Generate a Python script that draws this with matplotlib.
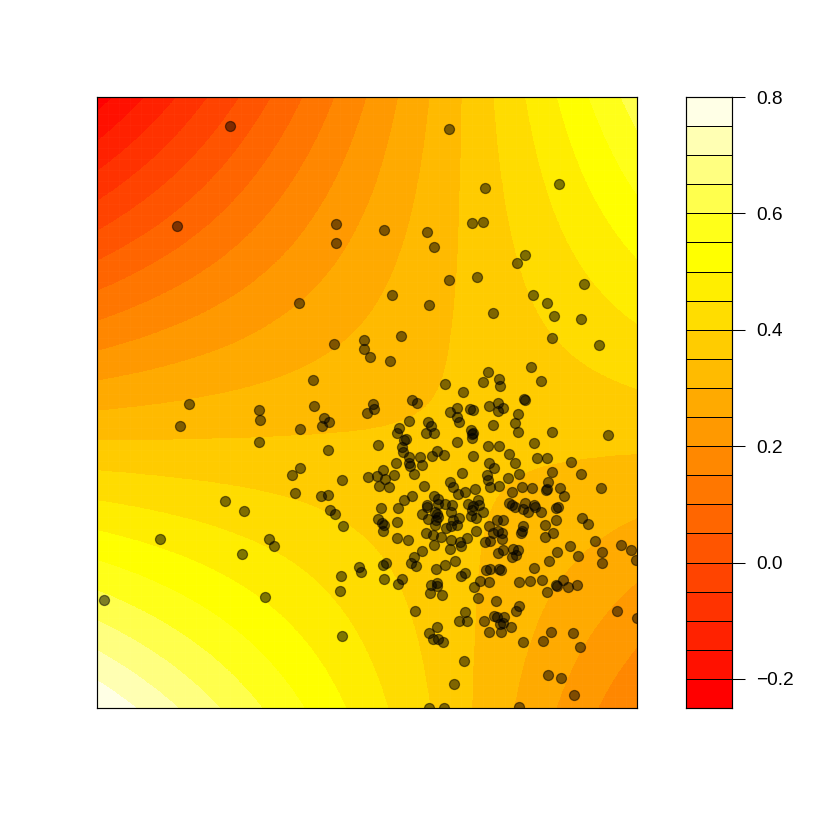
import numpy as np
import matplotlib
matplotlib.use('Agg')
import matplotlib.pyplot as plt
from matplotlib.colors import ListedColormap, BoundaryNorm, hsv_to_rgb

plt.rcParams['font.family'] = ['Liberation Sans', 'DejaVu Sans']

grid_x = [97, 164.5, 232, 299.5, 367, 434.5, 502, 569.5, 637]
grid_y = [97, 173.4, 249.8, 326.1, 402.5, 478.9, 555.3, 631.6, 708]
row_0 = [-.225, -.119, -.012, .095, .201, .308, .414, .521, .627]
row_1 = [-.097, -.015, .069, .153, .235, .319, .402, .485, .568]
row_2 = [.031, .090, .150, .210, .270, .330, .389, .449, .508]
row_3 = [.158, .195, .231, .268, .304, .341, .377, .413, .449]
row_4 = [.286, .299, .312, .325, .338, .351, .364, .377, .390]
row_5 = [.414, .403, .393, .383, .372, .362, .352, .342, .331]
row_6 = [.542, .508, .474, .441, .407, .373, .339, .306, .271]
row_7 = [.669, .612, .555, .498, .441, .384, .327, .270, .212]
row_8 = [.797, .717, .636, .556, .475, .395, .314, .234, .153]

# scatter points
point_x = [230, 177, 335.7, 336, 299, 333.7, 364.3, 364, 370, 313, 188.7, 448.7, 485, 559, 384.3, 427.3, 434, 471.7, 482.7, 524.7,
           517.3, 448.7, 476.7, 584, 391.7, 428.7, 532.7, 546.7, 553.7, 581.3, 492.7, 400.7, 552.3, 599, 390, 488, 531.3, 483, 499, 541,
           180, 258.7, 260.3, 258.7, 299.7, 314.3, 323.7, 322, 328.7, 366.5, 373, 374.3, 327.7, 300.3, 292, 342, 368.3, 295.3, 320.7, 328.3,
           330, 335, 343, 224.7, 244.3, 159.7, 269, 274.3, 241.7, 359, 361.3, 341.3, 340, 264.7, 104.3, 342,
           500, 444.7, 463, 412, 416.7, 489, 497.7, 503.3, 497.5, 457.3, 450.3, 470, 472.7, 457.3, 459, 408.7, 427.7, 431, 492.7, 399,
           396.7, 426, 434, 471, 472.3, 473, 472.3, 405.7, 404.3, 457, 378.3, 488, 499, 402, 402.7, 436.7, 432.3, 444.3, 473.3, 408.7,
           420, 396, 409.3, 409.7, 422.3, 488.7, 494, 383.3, 393.7, 377, 385, 413.7, 462.3, 487.3, 488, 450, 379.3, 389, 424, 453.3,
           490.3, 499, 474.7, 465.3, 457.7, 403.5, 412, 433.7, 437.7, 438.3, 444.5, 452.3, 467.7, 478.3, 472.7, 478.7, 426.7, 427, 380.7, 397.7,
           524, 524.5, 518.3, 515.3, 518.3, 552.3, 608.3, 534.3, 509.3, 536.7, 546.7, 515.3, 570.7, 552, 581, 518.7, 508, 548.3, 601, 522,
           531.7, 547.3, 546, 560.3, 512, 564, 509, 511.7, 515, 524.7, 534.3, 535, 523.3, 540.7, 558.3, 556,
           472.3, 482.7, 476, 470.7, 451.3, 459, 422.3, 435.3, 436.7, 437.7, 428.3, 436, 435, 377.7, 382.3, 384, 382.7, 397.3, 453, 451,
           456.7, 446.3, 476.3, 489, 497, 493, 498.3, 490.3, 485.3, 466.7, 426, 433.3, 441, 397.3, 407.7, 450.7, 459.7, 461.3, 434, 449.7,
           422.3, 498.3, 414.3, 411, 415.7, 454.7, 445, 436.3, 386, 383.3, 384, 402.3, 398.3, 465, 461.3, 486, 490.3, 498.5, 480, 489,
           474, 478.3, 495.5, 437.3, 430.7, 437.3, 430, 441.7,
           544.7, 555.7, 582.3, 588.3, 528.3, 503, 523.3, 522.3, 521.3, 501.7, 502, 545, 553.3, 594.7, 621.3, 630.7, 602, 569.7, 556.7, 577.7,
           602, 635.7, 548.7, 502.7, 513.3, 518.3, 516, 512.3, 501, 534.3, 519, 530, 542.3, 562.7, 555.7, 556.7, 568, 577, 547, 519,
           516, 616.7, 414.5, 465, 459.3, 466.7, 484, 489, 494, 497, 500, 500.5, 437, 429.3, 433.3, 438.3, 443, 464, 453.7, 428.7,
           444.3, 504.3, 502.7, 511, 523, 542.7, 551, 573, 580.3, 547.7, 560.7, 573.7, 519, 636.7]
point_y = [125.7, 226, 224, 243.3, 302.7, 344.3, 339.7, 348.7, 357.3, 380, 404, 128.7, 188.3, 184, 229.7, 232, 247, 223.3, 222.3, 255,
           262.7, 280.3, 276.7, 283.7, 295.3, 305, 295, 303.3, 315.7, 319, 313, 335.7, 338, 344.7, 361, 372, 367, 382, 379.3, 381,
           426, 409.7, 420, 441.7, 429.3, 406, 418.3, 425.7, 422, 413, 403.7, 408.7, 450, 468, 475, 479.7, 477.3, 493.3, 496, 495,
           510, 514, 526.3, 500.7, 511.3, 539, 539, 546, 554, 567, 572.3, 575.7, 591.3, 596.7, 599.7, 635.7,
           386.5, 384.3, 392.3, 399.7, 403.3, 405.7, 402.7, 407.7, 411.5, 407.7, 412, 408.7, 410, 416.7, 421.7, 420.7, 422, 426, 424.7, 428.3,
           432.7, 432.7, 433.3, 430, 434, 432.7, 438.3, 438.7, 440.3, 441.7, 444.7, 445.7, 446, 447.3, 451.7, 451, 456, 455, 456, 456.7,
           456.7, 463, 463.3, 466.3, 465, 463, 468.3, 469.7, 474.7, 475.7, 479, 474, 473, 475.3, 480, 481.7, 486, 486.7, 486, 486.7,
           487.3, 486, 489.3, 492, 494.3, 499.7, 496, 495.7, 499.3, 503.7, 504, 505, 503.7, 500.3, 506, 505.3, 505, 506.7, 508, 508.5,
           399.3, 400.3, 414.3, 423.3, 432, 432.3, 435.3, 443, 453.7, 457.7, 458.3, 463, 462.3, 472.3, 474.3, 474.3, 477.7, 481.7, 487.7, 487.3,
           488, 489.3, 490, 488, 492, 496.3, 502.7, 505, 507, 503.3, 504.7, 506.7, 509.5, 512, 507.3, 508.3,
           510, 512, 518, 515.7, 511.7, 517.7, 514, 512.3, 514, 516.7, 519, 520, 525, 519.3, 523.3, 525, 531, 522, 520, 525.7,
           525, 528, 530.7, 525.7, 520.3, 532.7, 531.5, 540.7, 542.3, 537.7, 533, 535.3, 537, 537.7, 540.3, 539.7, 542, 545.7, 545.3, 549,
           551.3, 553.5, 557.3, 563, 565.7, 560.7, 565.3, 569, 562.7, 565, 578.7, 579.3, 584.3, 572.7, 576, 569.7, 569, 569, 581.3, 581.7,
           587.3, 597.7, 600.7, 583.3, 585.3, 586, 592.7, 594.7,
           525, 520, 518.3, 524.3, 512, 520.3, 525.7, 530.7, 533.3, 533.3, 539.3, 536.7, 532.7, 540.7, 545.3, 550, 551.7, 546.3, 551.7, 556,
           563, 559.7, 561, 550, 549.3, 549.7, 555, 556.7, 570, 568.3, 581.7, 581.3, 580.3, 579.7, 585, 586, 587, 584.7, 591.7, 606.3,
           611, 611, 611, 612, 621.3, 621.3, 621.3, 631.7, 615.7, 617.5, 624, 631.7, 626.7, 632.7, 639.3, 639, 641.7, 661, 683.7, 708.3,
           708.3, 616.7, 623.3, 627.3, 642, 641.3, 632, 632.7, 646.7, 675.3, 677.7, 695.3, 706.7, 618.3]

# color bar
levels = [-.25, -.2, -.15, -.1, -.05, 0, .05, .1, .15, .2, .25, .3, .35, .4, .45, .5, .55, .6, .65, .7, .75, .8]
bar_ticks = [-0.2, 0.0, 0.2, 0.4, 0.6, 0.8]
bar_labels = ['\u22120.2', '0.0', '0.2', '0.4', '0.6', '0.8']


def heat_colors(n):
    # same ramp as R heat.colors
    j = n // 4
    i = n - j
    reds = [hsv_to_rgb((h, 1, 1)) for h in np.linspace(0, 1 / 6, i)]
    pale = [hsv_to_rgb((1 / 6, s, 1)) for s in np.linspace(1 - 1 / (2 * j), 1 / (2 * j), j)]
    return reds + pale


cmap = ListedColormap(heat_colors(len(levels) - 1))
norm = BoundaryNorm(levels, cmap.N)
z = np.array([row_0, row_1, row_2, row_3, row_4, row_5, row_6, row_7, row_8])

W = 830
fig = plt.figure(figsize=(8.3, 8.3), dpi=100)
ax = fig.add_axes([97 / W, (W - 708) / W, 540 / W, 611 / W])
cax = fig.add_axes([685.6 / W, (W - 708) / W, 46.8 / W, 611 / W])

# half a cell past the edges so the samples sit on the frame
dx = (grid_x[1] - grid_x[0]) / 2
dy = (grid_y[1] - grid_y[0]) / 2
ax.imshow(z, cmap=cmap, norm=norm, aspect='auto', interpolation='bilinear', interpolation_stage='data',
          origin='upper', extent=(grid_x[0] - dx, grid_x[-1] + dx, grid_y[-1] + dy, grid_y[0] - dy))
# faint seams the filled contours leave in the original
ax.vlines(np.arange(108.3, 637, 11.02), 97, 708, color='white', alpha=0.02, linewidth=0.7, zorder=2)
ax.hlines(np.arange(103, 708, 11.2), 97, 637, color='white', alpha=0.02, linewidth=0.7, zorder=2)
ax.scatter(point_x, point_y, s=52, facecolor=(0, 0, 0, 0.5), edgecolor=(0, 0, 0, 0.5), linewidth=0.9, zorder=3)
ax.set_xlim(97, 637)
ax.set_ylim(708, 97)
ax.set_xticks([])
ax.set_yticks([])
for s in ax.spines.values():
    s.set_linewidth(0.85)

mids = np.array(levels[:-1]).reshape(-1, 1)
cax.pcolormesh([0, 1], levels, mids + 0.001, cmap=cmap, norm=norm, edgecolors='black', linewidth=0.55)
cax.set_xlim(0, 1)
cax.set_ylim(-.25, .8)
cax.set_xticks([])
cax.yaxis.tick_right()
cax.set_yticks(bar_ticks)
cax.set_yticklabels(bar_labels)
cax.tick_params(axis='y', length=9.6, width=0.75, pad=7.5, labelsize=13.8)
for s in cax.spines.values():
    s.set_linewidth(0.85)

plt.savefig('out.png', dpi=100)
